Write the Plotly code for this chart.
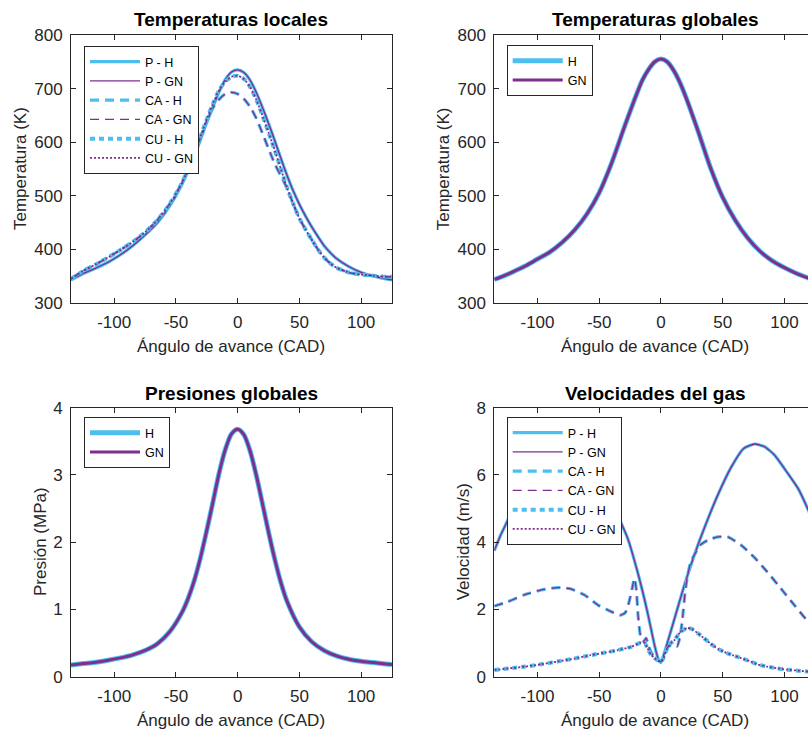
import plotly.graph_objects as go

# ---------------- data ----------------
# Panel 1: Temperaturas locales (K) vs crank angle (CAD)
X_LOC = [-135, -125, -115, -105, -95, -85, -75, -65, -55, -45, -35, -25, -20, -15, -10, -5, 0,
         5, 10, 15, 20, 25, 30, 35, 40, 45, 50, 55, 60, 65, 70, 75, 80, 90, 100, 110, 120, 125]
T_LOC_P = [343, 355, 365, 376, 390, 407, 427, 450, 481, 522, 575, 637, 666, 694, 717, 731, 735,
           730, 716, 693, 665, 635, 603, 570, 538, 509, 484, 462, 442, 424, 407, 394, 383,
           368, 357, 350, 345, 343]
T_LOC_CA = [345, 360, 372, 385, 399, 414, 432, 455, 485, 525, 580, 640, 664, 680, 690, 693, 690,
            681, 666, 645, 617, 588, 560, 537, 514, 485, 458, 437, 418, 400, 385, 374, 366,
            357, 353, 351, 349, 349]
T_LOC_CU = [345, 360, 372, 385, 399, 414, 432, 455, 485, 525, 580, 643, 672, 697, 713, 722, 724,
            718, 703, 680, 650, 618, 585, 550, 515, 485, 458, 437, 418, 400, 385, 374, 366,
            357, 353, 351, 349, 349]

# Panel 2: Temperaturas globales (K)
X_GLB = [-135, -130, -120, -110, -100, -90, -80, -70, -60, -50, -40, -30, -20, -15, -10, -5, 0,
         5, 10, 15, 20, 30, 40, 50, 60, 70, 80, 90, 100, 110, 120, 125]
T_GLB = [344, 348, 358, 369, 382, 395, 413, 436, 466, 506, 561, 626, 688, 716, 736, 750, 755,
         750, 735, 713, 685, 621, 553, 497, 455, 422, 397, 379, 366, 355, 346, 342]

# Panel 3: Presiones globales (MPa)
X_PRS = [-135, -125, -115, -105, -95, -85, -75, -65, -55, -45, -40, -35, -30, -25, -20, -15, -10, -5, 0,
         5, 10, 15, 20, 25, 30, 35, 40, 50, 60, 70, 80, 90, 100, 110, 120, 125]
P_GLB = [0.175, 0.195, 0.215, 0.245, 0.28, 0.325, 0.39, 0.49, 0.67, 0.96, 1.17, 1.44, 1.78, 2.18, 2.60,
         3.03, 3.38, 3.61, 3.68, 3.60, 3.36, 3.00, 2.58, 2.15, 1.75, 1.40, 1.12, 0.74, 0.52, 0.39,
         0.31, 0.26, 0.23, 0.21, 0.19, 0.18]

# Panel 4: Velocidades del gas (m/s)
X_V_P = [-135, -130, -124, -115, -105, -95, -85, -76, -65, -55, -45, -35, -27, -19, -11, -5, -2, 0,
         3, 11, 19, 27, 35, 46, 57, 67, 76, 84, 92, 100, 111, 120, 125]
V_P = [3.75, 4.2, 4.66, 5.4, 6.1, 6.55, 6.85, 6.92, 6.8, 6.35, 5.7, 4.8, 4.12, 3.12, 1.93, 0.9, 0.5, 0.42,
       0.74, 1.73, 2.73, 3.62, 4.41, 5.4, 6.24, 6.79, 6.92, 6.84, 6.59, 6.19, 5.6, 4.9, 4.45]

X_V_CA = [-135, -124, -111, -97, -84, -73, -62, -51, -40, -33, -29, -26, -23.5, -21.5, -20, -18.5, -16.5,
          -14, -12, -10, -6, -3, 0, 3, 6, 10, 13, 15.5, 17.5, 19.5, 21.5, 24, 27, 32, 38, 46, 54,
          65, 75, 86, 97, 108, 117, 125]
V_CA = [2.1, 2.23, 2.43, 2.58, 2.65, 2.61, 2.43, 2.13, 1.93, 1.83, 1.9, 2.2, 2.6, 2.92, 2.6, 1.8, 1.2,
        1.05, 1.15, 0.9, 0.6, 0.5, 0.45, 0.7, 0.9, 0.95, 0.9, 1.2, 1.75, 2.5, 3.0, 3.4, 3.62, 3.92,
        4.06, 4.16, 4.16, 3.91, 3.57, 3.12, 2.63, 2.13, 1.73, 1.4]

X_V_CU = [-135, -120, -110, -97, -84, -70, -57, -45, -35, -24, -16, -13, -11, -8, -5, -2, 0,
          2, 5, 8, 11, 14, 17, 21, 25, 30, 35, 40, 46, 51, 58, 65, 72, 78, 86, 94, 102, 111, 120, 125]
V_CU = [0.2, 0.26, 0.3, 0.37, 0.45, 0.54, 0.64, 0.72, 0.79, 0.89, 1.02, 1.0, 0.85, 0.65, 0.55, 0.47, 0.45,
        0.55, 0.84, 1.0, 1.09, 1.25, 1.36, 1.45, 1.42, 1.29, 1.14, 0.99, 0.83, 0.74, 0.64, 0.55, 0.46,
        0.37, 0.3, 0.25, 0.21, 0.18, 0.15, 0.13]

X_TICKS = [-100, -50, 0, 50, 100]
X_TICK_TEXT = ["-100", "-50", "0", "50", "100"]
T_TICKS = [300, 400, 500, 600, 700, 800]
P_TICKS = [0, 1, 2, 3, 4]
V_TICKS = [0, 2, 4, 6, 8]

TITLES = ["Temperaturas locales", "Temperaturas globales", "Presiones globales", "Velocidades del gas"]
X_LABEL = "Ángulo de avance (CAD)"
Y_LABELS = ["Temperatura (K)", "Temperatura (K)", "Presión (MPa)", "Velocidad (m/s)"]

# ---------------- style ----------------
BLUE = "#4DBEEE"
PURPLE = "#7E2F8E"
AX = "#262626"
FONT = "Liberation Sans, Arial, sans-serif"
W, H = 808, 731


def fx(p):
    return p / W


def fy(p):
    return 1 - p / H


L_DOM = [fx(71), fx(392)]
R_DOM = [fx(494.3), 1.0]
T_DOM = [fy(303), fy(35)]
B_DOM = [fy(676.7), fy(407.7)]
X_RANGE_L = [-135, 125]
X_RANGE_R = [-135, -135 + (W - 494.3) / (321 / 260)]

DASH = "9px,6px"
DOT_THICK = "5px,4px"
DOT_THIN = "2px,2px"

fig = go.Figure()


def add(x, y, name, color, width, dash, xa, ya, legend, smooth=0.8):
    fig.add_trace(go.Scatter(
        x=x, y=y, name=name, mode="lines", xaxis=xa, yaxis=ya, legend=legend,
        line=dict(color=color, width=width, dash=dash, shape="spline", smoothing=smooth),
        hoverinfo="skip"))


# Panel 1
add(X_LOC, T_LOC_P, "P - H", BLUE, 3.2, "solid", "x", "y", "legend")
add(X_LOC, T_LOC_P, "P - GN", PURPLE, 1.3, "solid", "x", "y", "legend")
add(X_LOC, T_LOC_CA, "CA - H", BLUE, 3.2, DASH, "x", "y", "legend")
add(X_LOC, T_LOC_CA, "CA - GN", PURPLE, 1.3, DASH, "x", "y", "legend")
add(X_LOC, T_LOC_CU, "CU - H", BLUE, 4, DOT_THICK, "x", "y", "legend")
add(X_LOC, T_LOC_CU, "CU - GN", PURPLE, 1.8, DOT_THIN, "x", "y", "legend")

# Panel 2
add(X_GLB, T_GLB, "H", BLUE, 5, "solid", "x2", "y2", "legend2")
add(X_GLB, T_GLB, "GN", PURPLE, 3, "solid", "x2", "y2", "legend2")

# Panel 3
add(X_PRS, P_GLB, "H", BLUE, 5, "solid", "x3", "y3", "legend3")
add(X_PRS, P_GLB, "GN", PURPLE, 3, "solid", "x3", "y3", "legend3")

# Panel 4
add(X_V_P, V_P, "P - H", BLUE, 3.2, "solid", "x4", "y4", "legend4", 0.5)
add(X_V_P, V_P, "P - GN", PURPLE, 1.3, "solid", "x4", "y4", "legend4", 0.5)
add(X_V_CA, V_CA, "CA - H", BLUE, 3.2, DASH, "x4", "y4", "legend4", 0.5)
add(X_V_CA, V_CA, "CA - GN", PURPLE, 1.3, DASH, "x4", "y4", "legend4", 0.5)
add(X_V_CU, V_CU, "CU - H", BLUE, 4, DOT_THICK, "x4", "y4", "legend4", 0.5)
add(X_V_CU, V_CU, "CU - GN", PURPLE, 1.8, DOT_THIN, "x4", "y4", "legend4", 0.5)

tickfont = dict(size=17, color=AX, family=FONT)


def xaxis(domain, anchor, rng):
    return dict(domain=domain, anchor=anchor, range=rng, tickvals=X_TICKS, ticktext=X_TICK_TEXT,
                ticks="inside", ticklen=5, tickcolor=AX, showline=True, linecolor=AX, linewidth=1,
                mirror="ticks", showgrid=False, zeroline=False, tickfont=tickfont,
                ticklabelstandoff=4, fixedrange=True, automargin=False)


def yaxis(domain, anchor, rng, tv, mirror):
    return dict(domain=domain, anchor=anchor, range=rng, tickvals=tv, ticktext=[str(v) for v in tv],
                ticks="inside", ticklen=5, tickcolor=AX, showline=True, linecolor=AX, linewidth=1,
                mirror=mirror, showgrid=False, zeroline=False, tickfont=tickfont,
                ticklabelstandoff=4, fixedrange=True, automargin=False)


def legend(x, y):
    return dict(x=fx(x), y=fy(y), xanchor="left", yanchor="top", bgcolor="white",
                bordercolor=AX, borderwidth=1, font=dict(size=12.5, color="#000", family=FONT),
                tracegroupgap=0, itemwidth=50, itemclick=False, itemdoubleclick=False)


annotations = []
centers_x = [231.5, 655, 231.5, 655]
title_y = [20, 20, 393, 393]
xlabel_y = [346.7, 346.7, 720, 720]
ylabel_x = [20, 443.3, 40, 463.3]
ylabel_y = [169, 169, 542, 542]
for i in range(4):
    annotations.append(dict(text="<b>%s</b>" % TITLES[i], x=fx(centers_x[i]), y=fy(title_y[i]),
                            xref="paper", yref="paper", showarrow=False, xanchor="center",
                            yanchor="middle", font=dict(size=19, color="#000", family=FONT)))
    annotations.append(dict(text=X_LABEL, x=fx(centers_x[i]), y=fy(xlabel_y[i]),
                            xref="paper", yref="paper", showarrow=False, xanchor="center",
                            yanchor="middle", font=dict(size=17, color=AX, family=FONT)))
    annotations.append(dict(text=Y_LABELS[i], x=fx(ylabel_x[i]), y=fy(ylabel_y[i]), textangle=-90,
                            xref="paper", yref="paper", showarrow=False, xanchor="center",
                            yanchor="middle", font=dict(size=17, color=AX, family=FONT)))

fig.update_layout(
    width=W, height=H, margin=dict(l=0, r=0, t=0, b=0, pad=0, autoexpand=False),
    autosize=False,
    paper_bgcolor="white", plot_bgcolor="white",
    font=dict(family=FONT, color=AX),
    xaxis=xaxis(L_DOM, "y", X_RANGE_L),
    yaxis=yaxis(T_DOM, "x", [300, 800], T_TICKS, "ticks"),
    xaxis2=xaxis(R_DOM, "y2", X_RANGE_R),
    yaxis2=yaxis(T_DOM, "x2", [300, 800], T_TICKS, False),
    xaxis3=xaxis(L_DOM, "y3", X_RANGE_L),
    yaxis3=yaxis(B_DOM, "x3", [0, 4], P_TICKS, "ticks"),
    xaxis4=xaxis(R_DOM, "y4", X_RANGE_R),
    yaxis4=yaxis(B_DOM, "x4", [0, 8], V_TICKS, False),
    legend=legend(84, 46),
    legend2=legend(506.7, 45),
    legend3=legend(84, 417),
    legend4=legend(506.7, 417),
    annotations=annotations,
    showlegend=True,
)

fig.write_html("out.html", config={"displayModeBar": False, "responsive": False},
               post_script="document.body.style.margin='0';document.body.style.overflow='hidden';")
